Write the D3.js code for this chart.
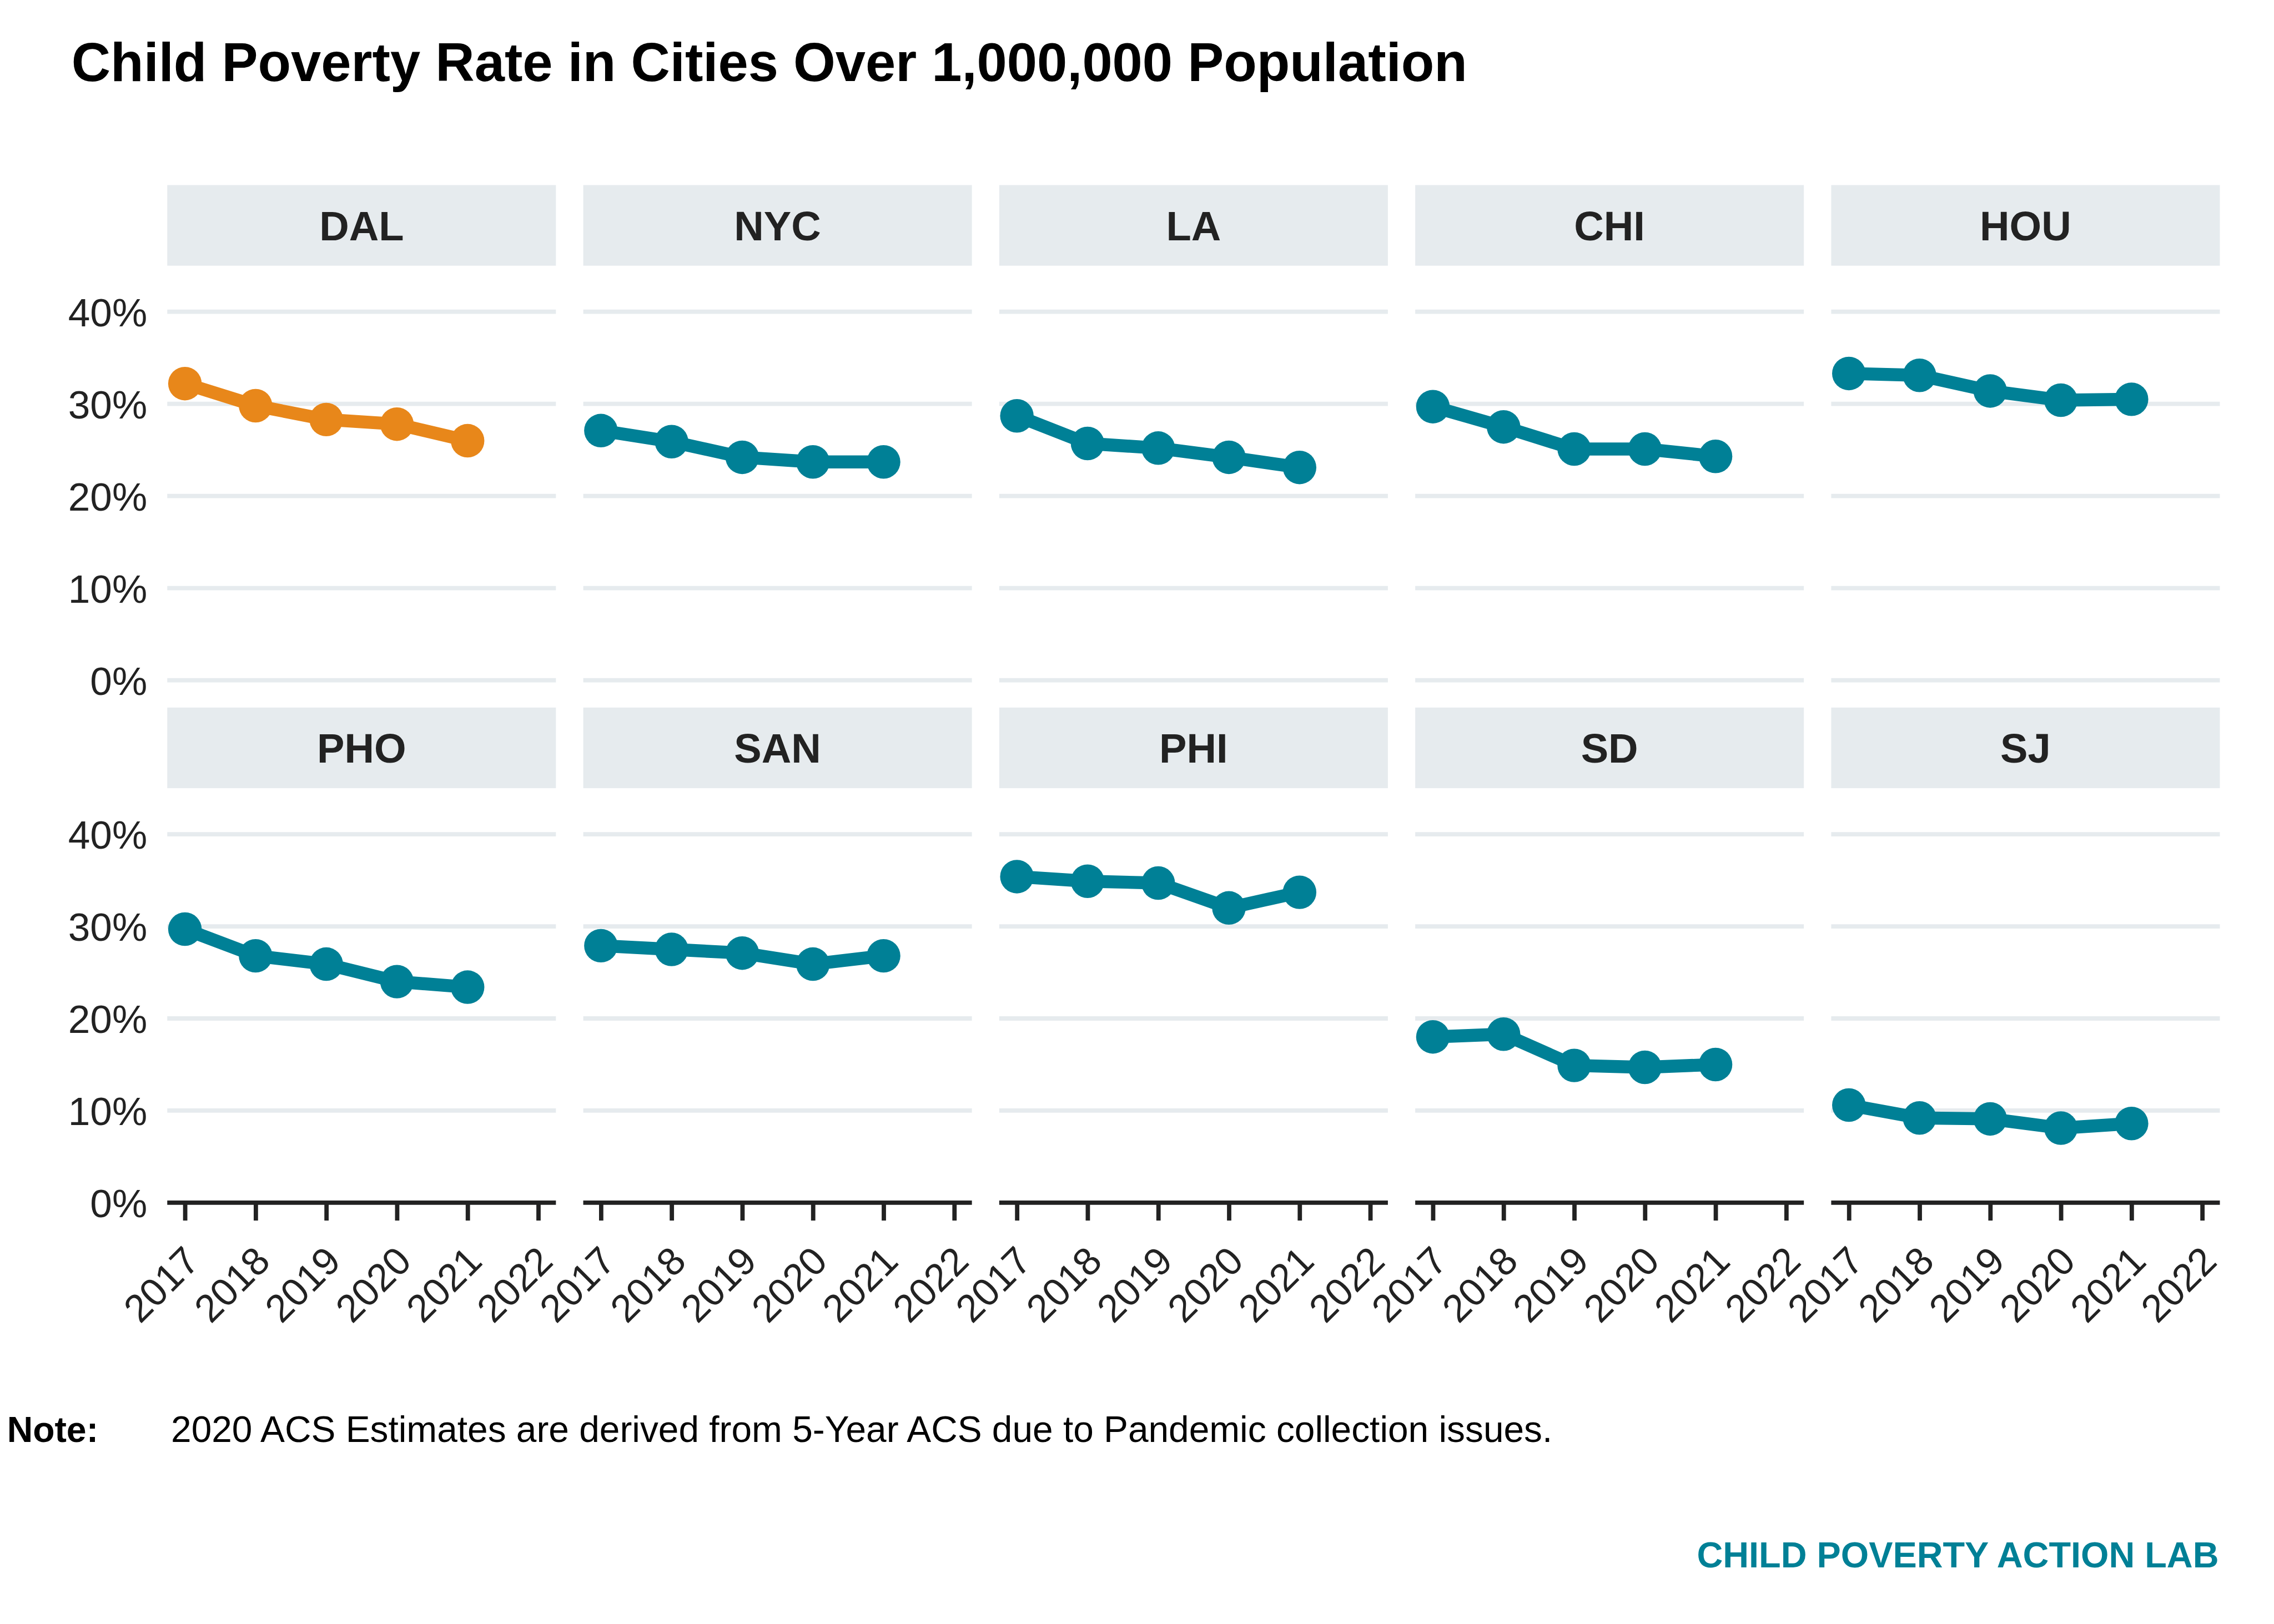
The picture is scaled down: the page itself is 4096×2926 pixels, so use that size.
<!DOCTYPE html>
<html>
<head>
<meta charset="utf-8">
<script src="https://cdn.jsdelivr.net/npm/d3@7"></script>
<style>
  html, body { margin: 0; padding: 0; background: #ffffff; }
  svg { display: block; }
</style>
</head>
<body>
<svg id="chart" width="4096" height="2926"></svg>
<script>
// ---------------- DATA ----------------
const cities = ["DAL", "NYC", "LA", "CHI", "HOU", "PHO", "SAN", "PHI", "SD", "SJ"];
const years = [2017, 2018, 2019, 2020, 2021];
const xTickYears = [2017, 2018, 2019, 2020, 2021, 2022];
const yTickValues = [0, 0.1, 0.2, 0.3, 0.4];
const highlightCity = "DAL";

const rateDAL = [0.322, 0.298, 0.283, 0.278, 0.260];
const rateNYC = [0.271, 0.259, 0.242, 0.237, 0.237];
const rateLA  = [0.287, 0.257, 0.252, 0.242, 0.231];
const rateCHI = [0.297, 0.275, 0.251, 0.251, 0.243];
const rateHOU = [0.333, 0.331, 0.314, 0.304, 0.305];
const ratePHO = [0.297, 0.268, 0.259, 0.240, 0.234];
const rateSAN = [0.279, 0.275, 0.271, 0.259, 0.268];
const ratePHI = [0.354, 0.349, 0.347, 0.320, 0.337];
const rateSD  = [0.180, 0.183, 0.149, 0.147, 0.150];
const rateSJ  = [0.106, 0.092, 0.091, 0.081, 0.086];

const titleText = "Child Poverty Rate in Cities Over 1,000,000 Population";
const noteLabel = "Note:";
const noteText = "2020 ACS Estimates are derived from 5-Year ACS due to Pandemic collection issues.";
const footerText = "CHILD POVERTY ACTION LAB";

const rates = {DAL: rateDAL, NYC: rateNYC, LA: rateLA, CHI: rateCHI, HOU: rateHOU,
               PHO: ratePHO, SAN: rateSAN, PHI: ratePHI, SD: rateSD, SJ: rateSJ};

// ---------------- STYLE / LAYOUT (reference px, scaled by 0.975) ----------------
const S = 0.975;
const FONT = "'Liberation Sans', Arial, Helvetica, sans-serif";
const TEAL = "#008096";
const ORANGE = "#E8871A";
const STRIP = "#E6EBEE";
const GRID = "#E6EBEE";
const INK = "#222222";

const panelLeft0 = 309, panelStep = 768.5, panelW = 718;
const stripH = 149;
const rowStripTop = [342, 1307.5];
const panelH = 766;

const svg = d3.select("#chart");
const root = svg.append("g").attr("transform", `scale(${S})`);

// title
root.append("text")
  .attr("x", 132).attr("y", 150)
  .attr("font-family", FONT).attr("font-weight", "bold").attr("font-size", 100)
  .attr("fill", "#000").text(titleText);

const x = d3.scaleLinear().domain([2016.75, 2022.25]).range([0, panelW]);
const y = d3.scaleLinear().domain([0, 0.45]).range([panelH, 0]);

const line = d3.line().x(d => x(d.year)).y(d => y(d.v));

cities.forEach((city, i) => {
  const row = Math.floor(i / 5), col = i % 5;
  const left = panelLeft0 + col * panelStep;
  const stripTop = rowStripTop[row];
  const panelTop = stripTop + stripH;
  const g = root.append("g").attr("transform", `translate(${left},${panelTop})`);

  // strip
  root.append("rect")
    .attr("x", left).attr("y", stripTop).attr("width", panelW).attr("height", stripH)
    .attr("fill", STRIP);
  root.append("text")
    .attr("x", left + panelW / 2).attr("y", stripTop + stripH / 2)
    .attr("dy", "0.36em").attr("text-anchor", "middle")
    .attr("font-family", FONT).attr("font-weight", "bold").attr("font-size", 76)
    .attr("fill", INK).text(city);

  // gridlines
  g.selectAll("line.grid").data(yTickValues).enter().append("line")
    .attr("class", "grid")
    .attr("x1", 0).attr("x2", panelW)
    .attr("y1", d => y(d)).attr("y2", d => y(d))
    .attr("stroke", GRID).attr("stroke-width", 8);

  // y axis labels on first column
  if (col === 0) {
    const yAxis = d3.axisLeft(y).tickValues(yTickValues)
      .tickFormat(d3.format(".0%")).tickSize(0).tickPadding(37);
    const ya = g.append("g").call(yAxis);
    ya.select(".domain").remove();
    ya.selectAll("text")
      .attr("font-family", FONT).attr("font-size", 73).attr("fill", INK)
      .attr("dy", "0.36em");
  }

  // x axis on bottom row
  if (row === 1) {
    const xAxis = d3.axisBottom(x).tickValues(xTickYears)
      .tickFormat(d3.format("d")).tickSize(33).tickSizeOuter(0);
    const xa = g.append("g").attr("transform", `translate(0,${panelH})`).call(xAxis);
    xa.select(".domain").attr("stroke", INK).attr("stroke-width", 8)
      .attr("d", `M0,0H${panelW}`);
    xa.selectAll(".tick line").attr("stroke", INK).attr("stroke-width", 8);
    xa.selectAll(".tick text")
      .attr("font-family", FONT).attr("font-size", 72).attr("fill", INK)
      .attr("text-anchor", "end").attr("dy", null).attr("y", null)
      .attr("transform", "translate(30,112) rotate(-45)");
  }

  const color = city === highlightCity ? ORANGE : TEAL;
  const pts = years.map((yr, k) => ({year: yr, v: rates[city][k]}));
  g.append("path").datum(pts)
    .attr("d", line).attr("fill", "none")
    .attr("stroke", color).attr("stroke-width", 24).attr("stroke-linejoin", "round");
  g.selectAll("circle.pt").data(pts).enter().append("circle")
    .attr("class", "pt")
    .attr("cx", d => x(d.year)).attr("cy", d => y(d.v)).attr("r", 31)
    .attr("fill", color);
});

// note
root.append("text")
  .attr("x", 13).attr("y", 2665)
  .attr("font-family", FONT).attr("font-weight", "bold").attr("font-size", 66)
  .attr("fill", "#000").text(noteLabel);
root.append("text")
  .attr("x", 316).attr("y", 2665)
  .attr("font-family", FONT).attr("font-size", 67.5)
  .attr("fill", "#000").text(noteText);

// footer
root.append("text")
  .attr("x", 4099).attr("y", 2896).attr("text-anchor", "end")
  .attr("font-family", FONT).attr("font-weight", "bold").attr("font-size", 66.5)
  .attr("fill", TEAL).text(footerText);
</script>
</body>
</html>
